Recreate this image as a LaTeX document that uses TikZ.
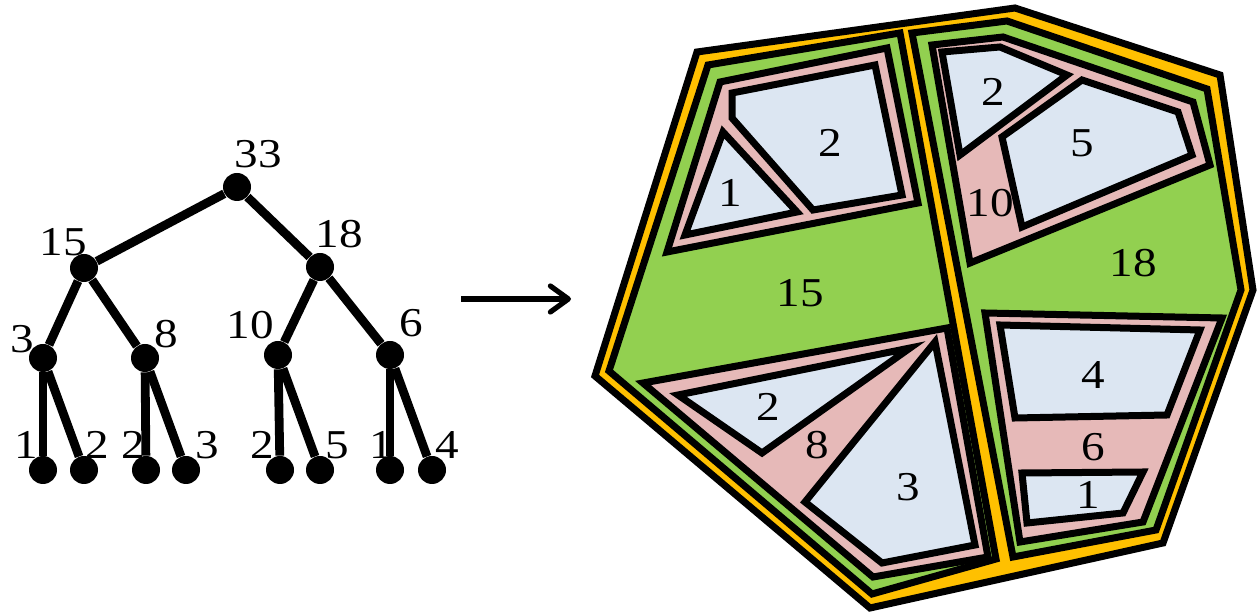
\documentclass[tikz,border=0pt]{standalone}
\usepackage{fontspec}
\setmainfont{Liberation Serif}
\usepackage{graphicx}
\usetikzlibrary{arrows.meta}
\definecolor{orangeC}{HTML}{FFC000}
\definecolor{greenC}{HTML}{92D050}
\definecolor{pinkC}{HTML}{E6B9B8}
\definecolor{blueC}{HTML}{DCE6F2}
\newcommand\sx[1]{\scalebox{1.15}[1]{#1}}
\tikzset{
  dot/.style={circle,fill=black,draw=none,minimum size=14pt,inner sep=0pt},
  edge/.style={line width=4.4pt},
  lab/.style={font=\fontsize{20.5}{23}\selectfont,inner sep=0pt},
  region/.style={draw=black,line width=3.5pt,line join=miter},
  outerR/.style={region,fill=orangeC},
  greenR/.style={region,fill=greenC},
  pinkR/.style={region,fill=pinkC},
  blueR/.style={region,fill=blueC},
}
\begin{document}
\begin{tikzpicture}[x=0.5pt,y=-0.5pt]
\useasboundingbox (0,0) rectangle (1259,613);
% ---------- tree ----------
\node[dot] (n33) at (237,187) {};
\node[dot] (n15) at (84,268) {};
\node[dot] (n18) at (320,267) {};
\node[dot] (n3) at (43,358) {};
\node[dot] (n8) at (145,358) {};
\node[dot] (n10) at (278,355) {};
\node[dot] (n6) at (390,355) {};
\node[dot] (l1) at (43,470) {};
\node[dot] (l2) at (84,470) {};
\node[dot] (l3) at (146,470) {};
\node[dot] (l4) at (186,470) {};
\node[dot] (l5) at (280,470) {};
\node[dot] (l6) at (320,470) {};
\node[dot] (l7) at (390,470) {};
\node[dot] (l8) at (432,470) {};
\draw[edge] (n33) -- (n15);
\draw[edge] (n33) -- (n18);
\draw[edge] (n15) -- (n3);
\draw[edge] (n15) -- (n8);
\draw[edge] (n18) -- (n10);
\draw[edge] (n18) -- (n6);
\draw[edge] (n3) -- (l1);
\draw[edge] (n3) -- (l2);
\draw[edge] (n8) -- (l3);
\draw[edge] (n8) -- (l4);
\draw[edge] (n10) -- (l5);
\draw[edge] (n10) -- (l6);
\draw[edge] (n6) -- (l7);
\draw[edge] (n6) -- (l8);
\node[lab] (t33) at (258,154) {\sx{33}};
\node[lab] (t15) at (63,242) {\sx{15}};
\node[lab] (t18) at (339,234) {\sx{18}};
\node[lab] (t3) at (22,339) {\sx{3}};
\node[lab] (t8) at (166,334) {\sx{8}};
\node[lab] (t10) at (250,325) {\sx{10}};
\node[lab] (t6) at (411,323) {\sx{6}};
\node[lab] (tl1) at (26,445) {\sx{1}};
\node[lab] (tl2) at (97,445) {\sx{2}};
\node[lab] (tl3) at (133,445) {\sx{2}};
\node[lab] (tl4) at (207,445) {\sx{3}};
\node[lab] (tl5) at (262,445) {\sx{2}};
\node[lab] (tl6) at (337,445) {\sx{5}};
\node[lab] (tl7) at (381,445) {\sx{1}};
\node[lab] (tl8) at (447,445) {\sx{4}};
% ---------- arrow ----------
\coordinate (a0) at (461,299);
\coordinate (a1) at (571,299);
\draw[line width=2.6pt,-{Straight Barb[length=9pt,width=13pt,line cap=round,line join=round]}] (a0) -- (a1);
% ---------- regions ----------
\draw[outerR] (697,52) -- (1015,8) -- (1220,75) -- (1253,290) -- (1163,543) -- (870,608) -- (595,376) -- cycle;
\draw[greenR] (708,65) -- (900,33) -- (996,559) -- (872,594) -- (609,371) -- cycle;
\draw[greenR] (912,33) -- (1007,21) -- (1207,89) -- (1241,290) -- (1156,530) -- (1013,557) -- cycle;
% left top
\draw[pinkR] (720,82) -- (887,48) -- (918,203) -- (667,252) -- cycle;
\draw[blueR] (732,93) -- (875,65) -- (902,195) -- (813,210) -- (732,118) -- cycle;
\draw[blueR] (723,132) -- (797,212) -- (685,235) -- cycle;
% left bottom
\draw[pinkR] (643,383) -- (947,328) -- (988,557) -- (873,577) -- cycle;
\draw[blueR] (678,395) -- (910,348) -- (762,453) -- cycle;
\draw[blueR] (935,342) -- (975,545) -- (882,563) -- (805,502) -- cycle;
% right top
\draw[pinkR] (932,45) -- (1003,37) -- (1193,102) -- (1210,165) -- (970,263) -- cycle;
\draw[blueR] (942,52) -- (1000,47) -- (1067,75) -- (960,155) -- cycle;
\draw[blueR] (1082,80) -- (1178,112) -- (1192,155) -- (1022,227) -- (1002,137) -- cycle;
% right bottom
\draw[pinkR] (985,313) -- (1222,318) -- (1143,522) -- (1020,542) -- cycle;
\draw[blueR] (1000,325) -- (1200,330) -- (1167,415) -- (1015,418) -- cycle;
\draw[blueR] (1022,473) -- (1143,472) -- (1123,513) -- (1027,523) -- cycle;
% labels
\node[lab] (p2a) at (830,143) {\sx{2}};
\node[lab] (p1a) at (730,193) {\sx{1}};
\node[lab] (p15) at (800,293) {\sx{15}};
\node[lab] (p2b) at (768,407) {\sx{2}};
\node[lab] (p8) at (817,445) {\sx{8}};
\node[lab] (p3) at (908,487) {\sx{3}};
\node[lab] (p2c) at (993,92) {\sx{2}};
\node[lab] (p5) at (1082,143) {\sx{5}};
\node[lab] (p10) at (990,203) {\sx{10}};
\node[lab] (p18) at (1133,263) {\sx{18}};
\node[lab] (p4) at (1093,375) {\sx{4}};
\node[lab] (p6) at (1093,447) {\sx{6}};
\node[lab] (p1b) at (1088,495) {\sx{1}};
\end{tikzpicture}
\end{document}
